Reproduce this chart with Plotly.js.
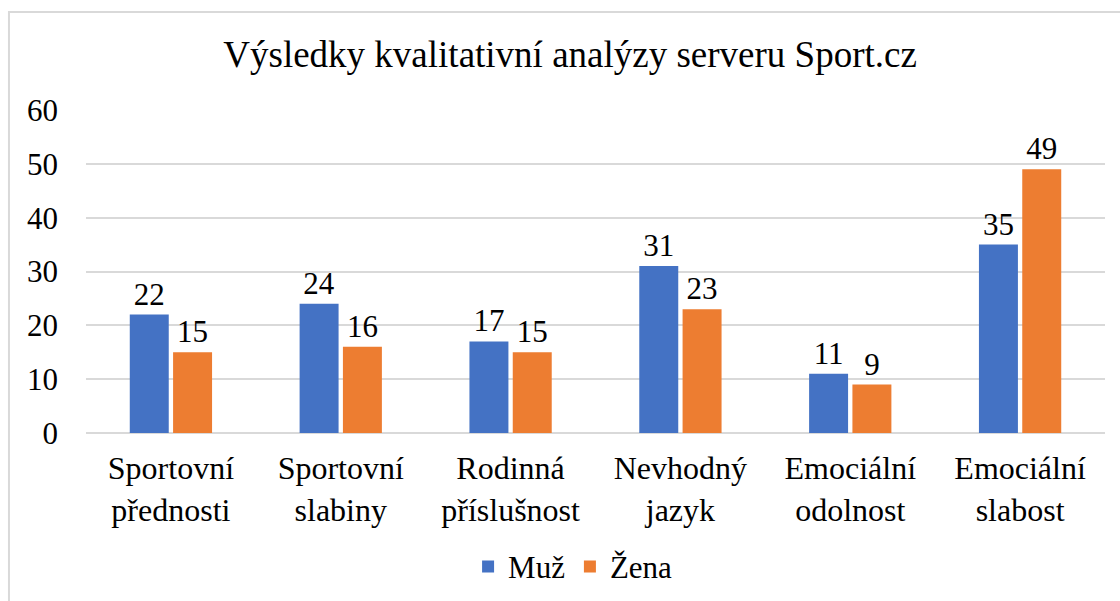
<!DOCTYPE html>
<html>
<head>
<meta charset="utf-8">
<script src="https://cdn.plot.ly/plotly-3.0.1.min.js"></script>
<style>
html,body{margin:0;padding:0;background:#fff;}
#chart{width:1120px;height:601px;}
</style>
</head>
<body>
<div id="chart"></div>
<script>
const categories = ["Sportovní<br>přednosti", "Sportovní<br>slabiny", "Rodinná<br>příslušnost", "Nevhodný<br>jazyk", "Emociální<br>odolnost", "Emociální<br>slabost"];
const muz = [22, 24, 17, 31, 11, 35];
const zena = [15, 16, 15, 23, 9, 49];
const seriesNames = ["Muž", "Žena"];
const titleText = "Výsledky kvalitativní analýzy serveru Sport.cz";

const FONT = "Liberation Serif";
const traces = [
  {type: "bar", name: seriesNames[0], x: categories, y: muz, marker: {color: "#4472C4"},
   text: muz.map(String), textposition: "outside", constraintext: "none", cliponaxis: false,
   textfont: {family: FONT, size: 31, color: "#000"}, hoverinfo: "skip"},
  {type: "bar", name: seriesNames[1], x: categories, y: zena, marker: {color: "#ED7D31"},
   text: zena.map(String), textposition: "outside", constraintext: "none", cliponaxis: false,
   textfont: {family: FONT, size: 31, color: "#000"}, hoverinfo: "skip"}
];

const layout = {
  width: 1120, height: 601,
  margin: {l: 86, r: 15, t: 110, b: 168},
  paper_bgcolor: "#fff", plot_bgcolor: "#fff",
  font: {family: FONT, size: 30, color: "#000"},
  title: {text: titleText, font: {family: FONT, size: 37, color: "#000"}, x: 0.509, xref: "container", xanchor: "center", y: 0.91, yref: "container", yanchor: "middle"},
  bargap: 0.49, bargroupgap: 0.1,
  showlegend: true,
  legend: {orientation: "h", x: 0.478, xanchor: "center", yref: "container", y: 0.057, yanchor: "middle", font: {family: FONT, size: 31, color: "#000"}, itemwidth: 30},
  xaxis: {automargin: false, showgrid: false, showline: false, ticks: "", ticklabelstandoff: 13, tickfont: {family: FONT, size: 32, color: "#000"}, fixedrange: true},
  yaxis: {automargin: false, range: [0, 60], dtick: 10, showgrid: true, gridcolor: "#d9d9d9", gridwidth: 2, zeroline: true, zerolinecolor: "#d9d9d9", zerolinewidth: 2, showline: false, ticks: "", ticklabelstandoff: 27, tickfont: {family: FONT, size: 31, color: "#000"}, fixedrange: true},
  shapes: [{type: "rect", xref: "paper", yref: "paper", x0: -0.0756, x1: 1.03, y0: -0.6, y1: 1.3034, line: {color: "#d9d9d9", width: 2}, fillcolor: "rgba(0,0,0,0)", layer: "below"}]
};

Plotly.newPlot("chart", traces, layout, {displayModeBar: false, staticPlot: true});
</script>
</body>
</html>
